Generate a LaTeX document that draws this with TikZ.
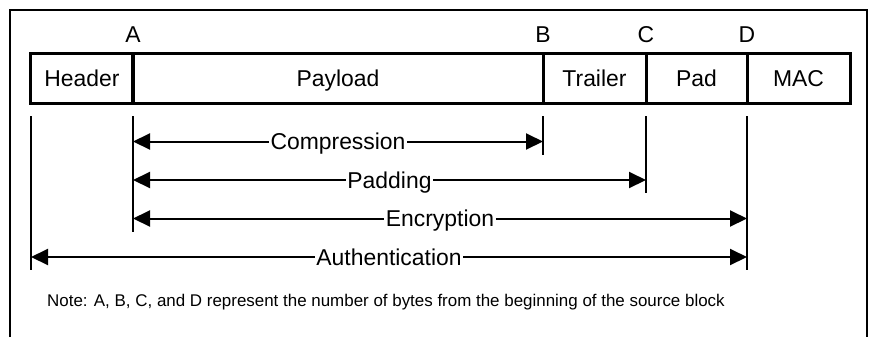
\documentclass[tikz,border=0pt]{standalone}
\usepackage{fontspec}
\setmainfont{Liberation Sans}
\usetikzlibrary{arrows.meta}
\begin{document}
\begin{tikzpicture}[x=1bp,y=-1bp,
  bigfont/.style={font=\fontsize{23}{27}\selectfont, text height=16.5bp, text depth=0pt},
  cell/.style={draw, line width=3bp, minimum height=50bp, inner sep=0pt, bigfont},
  offsetlbl/.style={inner sep=0pt, bigfont},
  spanlbl/.style={fill=white, inner sep=1.5bp, bigfont},
  frameline/.style={line width=2.2bp},
  tick/.style={line width=2bp},
  dimline/.style={line width=2bp, -{Triangle[length=17bp,width=16bp]}},
]
\useasboundingbox (0,0) rectangle (869,337);

% outer frame (open at the bottom)
\draw[frameline] (10,337) -- (10,10) -- (867,10) -- (867,337);

% packet fields
\node[cell, minimum width=102bp] (hdr) at (82,78)    {Header};
\node[cell, minimum width=410bp] (pay) at (338,78)   {Payload};
\node[cell, minimum width=103bp] (trl) at (594.5,78) {Trailer};
\node[cell, minimum width=101bp] (pad) at (696.5,78) {Pad};
\node[cell, minimum width=103bp] (mac) at (798.5,78) {MAC};

% byte offsets
\node[offsetlbl] (oA) at (133,34) {A};
\node[offsetlbl] (oB) at (543,34) {B};
\node[offsetlbl] (oC) at (646,34) {C};
\node[offsetlbl] (oD) at (747,34) {D};

% boundary ticks
\coordinate (t0) at (31,116);   \coordinate (b0) at (31,270);
\coordinate (tA) at (133,116);  \coordinate (bA) at (133,232);
\coordinate (tB) at (543,116);  \coordinate (bB) at (543,155);
\coordinate (tC) at (646,116);  \coordinate (bC) at (646,193);
\coordinate (tD) at (747,116);  \coordinate (bD) at (747,270);
\foreach \k in {0,A,B,C,D} \draw[tick] (t\k) -- (b\k);

% arrow end points on the ticks
\coordinate (cA) at (133,141.5); \coordinate (cB) at (543,141.5);
\coordinate (pA) at (133,180);   \coordinate (pC) at (646,180);
\coordinate (eA) at (133,218.5); \coordinate (eD) at (747,218.5);
\coordinate (a0) at (31,257);    \coordinate (aD) at (747,257);

% operation spans
\node[spanlbl] (comp) at (338,141.5) {Compression};
\node[spanlbl] (padg) at (389.5,180) {Padding};
\node[spanlbl] (encr) at (440,218.5) {Encryption};
\node[spanlbl] (auth) at (389,257)   {Authentication};

\draw[dimline] (comp) -- (cA);
\draw[dimline] (comp) -- (cB);
\draw[dimline] (padg) -- (pA);
\draw[dimline] (padg) -- (pC);
\draw[dimline] (encr) -- (eA);
\draw[dimline] (encr) -- (eD);
\draw[dimline] (auth) -- (a0);
\draw[dimline] (auth) -- (aD);

% footnote
\node[anchor=base west, inner sep=0pt, font=\fontsize{17}{20}\selectfont] (note) at (47,306.5)
  {Note: A, B, C, and D represent the number of bytes from the beginning of the source block};
\end{tikzpicture}
\end{document}
